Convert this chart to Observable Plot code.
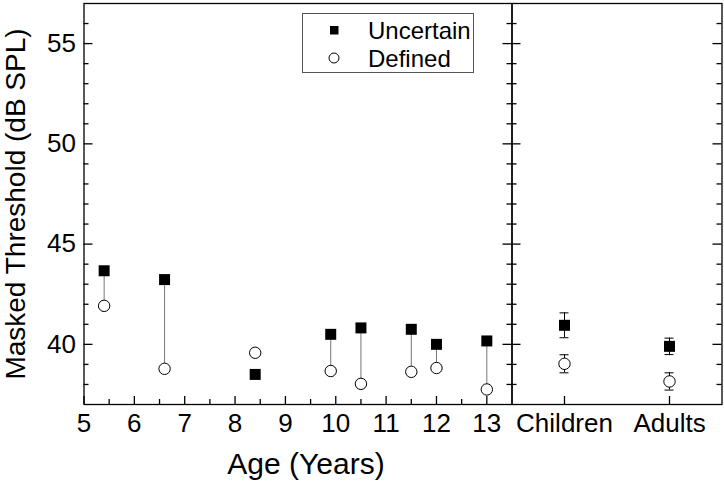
<!DOCTYPE html>
<html><head><meta charset="utf-8">
<script src="https://cdn.jsdelivr.net/npm/d3@7"></script>
<script src="https://cdn.jsdelivr.net/npm/@observablehq/plot@0.6"></script>
<style>
body{margin:0;background:#fff;}
#chart{position:relative;width:724px;height:482px;font-family:"Liberation Sans",Arial,sans-serif;}
#legend{position:absolute;left:302px;top:13px;width:172px;height:60px;border:1px solid #555;box-sizing:border-box;background:#fff;}
</style></head><body><div id="chart"></div>
<script>
// ---- data ----
const ages = [5.4, 6.6, 8.4, 9.9, 10.5, 11.5, 12.0, 13.0];
const uncertain = [43.67, 43.23, 38.5, 40.5, 40.82, 40.75, 40.0, 40.17];
const defined = [41.92, 38.78, 39.58, 38.67, 38.03, 38.63, 38.82, 37.75];
const groups = ["Children", "Adults"];
const groupUncertain = [40.95, 39.9];
const groupUncertainErr = [0.62, 0.41];
const groupDefined = [39.03, 38.15];
const groupDefinedErr = [0.45, 0.43];
const yMajor = [40, 45, 50, 55];
const xMajor = [5, 6, 7, 8, 9, 10, 11, 12, 13];

const yMinor = d3.range(38, 57).filter(v => !yMajor.includes(v));
const xMinor = d3.range(5.5, 13.5, 1);

const ageData = ages.map((a, i) => ({age: a, uncertain: uncertain[i], defined: defined[i]}));
const groupData = groups.map((g, i) => ({
  group: g, u: groupUncertain[i], ue: groupUncertainErr[i], d: groupDefined[i], de: groupDefinedErr[i]
}));

// ---- layout ----
const W = 724, H = 482;
const mTop = 3, mBottom = 78, mLeft = 83.5, split = 511.5, rightEdge = 721.5;
const frameH = H - mTop - mBottom;
const leftW = split - mLeft;
const rightW = rightEdge - split;
const major = 9, minor = 5, sw = 1.3;
const font = '"Liberation Sans", Arial, sans-serif';
const svgStyle = {position: "absolute", left: "0px", top: "0px", background: "transparent",
  fontFamily: font, fontSize: "26px", color: "black", overflow: "visible"};
const yDomain = [37, 57];
const tk = {stroke: "black", strokeWidth: sw};

const left = Plot.plot({
  width: W, height: H,
  marginLeft: mLeft, marginRight: W - split, marginTop: mTop, marginBottom: mBottom,
  style: svgStyle,
  x: {domain: [5, 13.5]},
  y: {domain: yDomain},
  marks: [
    Plot.ruleX(ageData.filter(d => d.uncertain > d.defined), {x: "age", y1: "uncertain", y2: "defined", stroke: "#777", strokeWidth: 1}),
    Plot.dot(ageData, {x: "age", y: "uncertain", symbol: "square", r: 6.2, fill: "black"}),
    Plot.dot(ageData, {x: "age", y: "defined", r: 5.7, fill: "white", stroke: "black", strokeWidth: 1}),
    Plot.tickY(yMajor, {y: d => d, insetRight: leftW - major, ...tk}),
    Plot.tickY(yMinor, {y: d => d, insetRight: leftW - minor, ...tk}),
    Plot.tickY(yMajor, {y: d => d, insetLeft: leftW - major, ...tk}),
    Plot.tickY(yMinor, {y: d => d, insetLeft: leftW - minor, ...tk}),
    Plot.tickX(xMajor, {x: d => d, insetTop: frameH - 8, ...tk}),
    Plot.tickX(xMinor, {x: d => d, insetTop: frameH - minor, ...tk}),
    Plot.axisY({ticks: yMajor, tickSize: 0, tickPadding: 8, label: null, tickFormat: d => d}),
    Plot.axisX({ticks: xMajor, tickSize: 0, tickPadding: 9, label: null, tickFormat: d => d}),
    Plot.text(["Age (Years)"], {frameAnchor: "bottom", dy: 60, dx: 8, lineAnchor: "middle", textAnchor: "middle", fontSize: 30, text: d => d}),
    Plot.text(["Masked Threshold (dB SPL)"], {frameAnchor: "left", dx: -67.5, rotate: -90, lineAnchor: "middle", textAnchor: "middle", fontSize: 28, text: d => d}),
    Plot.frame({stroke: "black", strokeWidth: sw})
  ]
});

const right = Plot.plot({
  width: W, height: H,
  marginLeft: split, marginRight: W - rightEdge, marginTop: mTop, marginBottom: mBottom,
  style: svgStyle,
  x: {type: "point", domain: groups, padding: 0.5},
  y: {domain: yDomain, axis: null},
  marks: [
    Plot.ruleX(groupData, {x: "group", y1: d => d.u - d.ue, y2: d => d.u + d.ue, stroke: "black", strokeWidth: 1}),
    Plot.ruleY(groupData, {x1: "group", x2: "group", y: d => d.u - d.ue, insetLeft: -4.5, insetRight: -4.5, stroke: "black", strokeWidth: 1}),
    Plot.ruleY(groupData, {x1: "group", x2: "group", y: d => d.u + d.ue, insetLeft: -4.5, insetRight: -4.5, stroke: "black", strokeWidth: 1}),
    Plot.ruleX(groupData, {x: "group", y1: d => d.d - d.de, y2: d => d.d + d.de, stroke: "black", strokeWidth: 1}),
    Plot.ruleY(groupData, {x1: "group", x2: "group", y: d => d.d - d.de, insetLeft: -4.5, insetRight: -4.5, stroke: "black", strokeWidth: 1}),
    Plot.ruleY(groupData, {x1: "group", x2: "group", y: d => d.d + d.de, insetLeft: -4.5, insetRight: -4.5, stroke: "black", strokeWidth: 1}),
    Plot.dot(groupData, {x: "group", y: "u", symbol: "square", r: 6.2, fill: "black"}),
    Plot.dot(groupData, {x: "group", y: "d", r: 5.7, fill: "white", stroke: "black", strokeWidth: 1}),
    Plot.tickY(yMajor, {y: d => d, insetRight: rightW - major, ...tk}),
    Plot.tickY(yMinor, {y: d => d, insetRight: rightW - minor, ...tk}),
    Plot.tickY(yMajor, {y: d => d, insetLeft: rightW - major, ...tk}),
    Plot.tickY(yMinor, {y: d => d, insetLeft: rightW - minor, ...tk}),
    Plot.tickX(groups, {x: d => d, insetTop: frameH - 8, ...tk}),
    Plot.axisX({tickSize: 0, tickPadding: 9, label: null}),
    Plot.frame({stroke: "black", strokeWidth: sw})
  ]
});

const chart = document.getElementById("chart");
chart.appendChild(left);
chart.appendChild(right);

// ---- legend ----
const legend = document.createElement("div");
legend.id = "legend";
legend.innerHTML = `<svg width="170" height="58" style="font-family:${font.replace(/"/g, "'")};font-size:24px">
  <rect x="27" y="12" width="8.5" height="8.5" fill="black"></rect>
  <text x="65" y="16.5" dominant-baseline="central">Uncertain</text>
  <circle cx="31" cy="44" r="5" fill="white" stroke="black" stroke-width="1"></circle>
  <text x="65" y="44" dominant-baseline="central">Defined</text>
</svg>`;
chart.appendChild(legend);
</script></body></html>
